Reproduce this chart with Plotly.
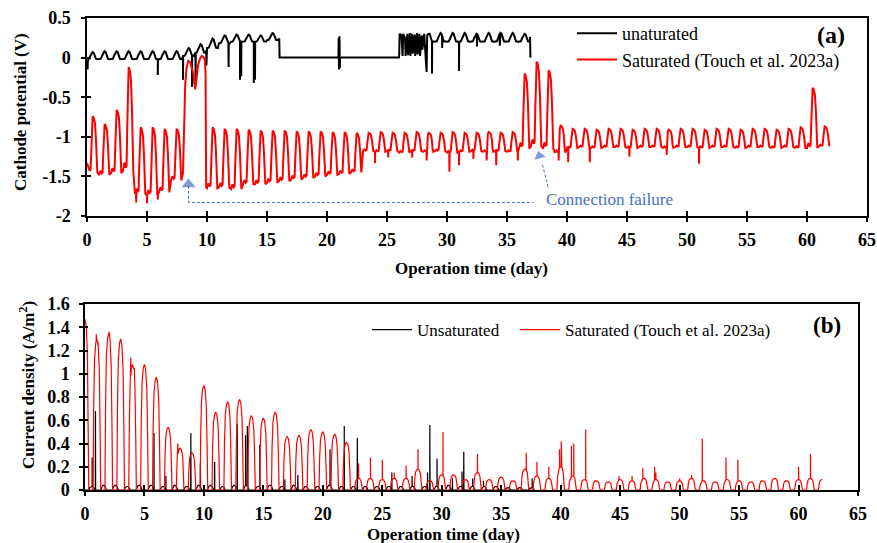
import numpy as np
import plotly.graph_objects as go

SERIF = "Liberation Serif, Times New Roman, serif"
BLUE = "#4472C4"

# ---------------- tick labels ----------------
x_ticks = [0, 5, 10, 15, 20, 25, 30, 35, 40, 45, 50, 55, 60, 65]
x_tick_text = ["0", "5", "10", "15", "20", "25", "30", "35", "40", "45", "50", "55", "60", "65"]
pot_ticks = [0.5, 0, -0.5, -1, -1.5, -2]
pot_tick_text = ["0.5", "0", "-0.5", "-1", "-1.5", "-2"]
cur_ticks = [0, 0.2, 0.4, 0.6, 0.8, 1.0, 1.2, 1.4, 1.6]
cur_tick_text = ["0", "0.2", "0.4", "0.6", "0.8", "1", "1.2", "1.4", "1.6"]

# ---------------- panel (a): cathode potential (V) ----------------
# Saturated: daily cycle, peak (least negative) and trough values read per day
sat_pot_days = list(range(62))
sat_pot_peak = [-0.74, -0.84, -0.66, -0.12, -0.88, -0.88, -0.90, -0.90, None, None,
                -0.88, -0.90, -0.90, -0.91, -0.92, -0.92, -0.92, -0.93, -0.93, -0.93,
                -0.94, -0.94, -0.95, -0.95, -0.94, -0.95, -0.95, -0.94, -0.95, -0.95,
                -0.94, -0.95, -0.95, -0.94, -0.95, -0.94, -0.20, -0.05, -0.16, -0.86,
                -0.90, -0.90, -0.91, -0.90, -0.90, -0.91, -0.90, -0.90, -0.91, -0.90,
                -0.90, -0.91, -0.90, -0.90, -0.91, -0.90, -0.90, -0.91, -0.90, -0.88,
                -0.38, -0.87]
sat_pot_trough = [-1.45, -1.48, -1.46, -1.43, -1.72, -1.74, -1.70, -1.55, None, None,
                  -1.65, -1.64, -1.66, -1.60, -1.60, -1.58, -1.56, -1.54, -1.52, -1.50,
                  -1.48, -1.47, -1.45, -1.18, -1.19, -1.18, -1.20, -1.18, -1.19, -1.18,
                  -1.20, -1.19, -1.18, -1.19, -1.18, -1.19, -1.15, -1.12, -1.15, -1.20,
                  -1.14, -1.13, -1.14, -1.13, -1.13, -1.14, -1.13, -1.13, -1.14, -1.13,
                  -1.13, -1.14, -1.13, -1.13, -1.14, -1.13, -1.13, -1.14, -1.13, -1.14,
                  -1.14, -1.12]
sat_pot_start = -1.33
# connection failure period (day 8-10), read point by point
sat_pot_fail_t = [8.0, 8.05, 8.1, 8.18, 8.3, 8.45, 8.6, 8.72, 8.85, 8.95, 9.02, 9.12,
                  9.25, 9.4, 9.55, 9.7, 9.82, 9.88, 9.93]
sat_pot_fail_v = [-1.46, -1.10, -0.75, -0.35, -0.12, -0.04, -0.06, -0.15, -0.20, -0.33,
                  -0.40, -0.28, -0.10, -0.02, 0.02, 0.01, -0.03, -0.20, -1.64]
# narrow downward spikes
sat_pot_spike_t = [4.1, 5.0, 5.9, 24.0, 25.1, 27.1, 28.3, 30.2, 31.0, 32.2, 33.3, 34.1,
                   35.9, 39.3, 40.1, 41.9, 45.2, 48.3, 51.0]
sat_pot_spike_v = [-1.83, -1.84, -1.79, -1.33, -1.26, -1.26, -1.30, -1.44, -1.36, -1.28,
                   -1.30, -1.36, -1.30, -1.30, -1.32, -1.32, -1.25, -1.23, -1.34]
# within-day waveform (fraction of the way from trough to peak)
pot_shape_phase = [0.00, 0.12, 0.22, 0.30, 0.35, 0.40, 0.47, 0.56, 0.66, 0.74, 0.80, 0.86]
pot_shape_frac = [0.00, 0.08, 0.03, 0.05, 0.40, 0.88, 1.00, 0.97, 0.88, 0.62, 0.15, 0.00]

# Unsaturated
uns_pot_days = [0, 1, 2, 3, 4, 5, 6, 7, 8, 9, 10, 11, 12, 13, 14, 15,
                28, 29, 30, 31, 32, 33, 34, 35, 36]
uns_pot_peak = [0.07, 0.08, 0.08, 0.08, 0.08, 0.08, 0.08, 0.08, 0.12, 0.17, 0.24, 0.28,
                0.29, 0.29, 0.28, 0.31, 0.31, 0.31, 0.31, 0.31, 0.30, 0.31, 0.31, 0.31, 0.30]
uns_pot_base = [-0.02, -0.02, -0.02, -0.02, -0.02, -0.02, -0.02, -0.02, 0.02, 0.06, 0.12, 0.18,
                0.20, 0.20, 0.20, 0.22, 0.20, 0.20, 0.20, 0.20, 0.20, 0.20, 0.20, 0.20, 0.20]
uns_pot_start = -0.05
uns_pot_off_t = [16.02, 16.05, 26.0]
uns_pot_off_v = [0.24, 0.0, 0.0]
uns_pot_dense_t = [26.02, 26.05, 26.2, 26.3, 26.35, 26.5, 26.55, 26.7, 26.75, 26.9, 26.95, 27.1,
                   27.15, 27.3, 27.35, 27.5, 27.55, 27.7, 27.75, 27.9, 27.95, 28.1, 28.15, 28.3,
                   28.35, 28.45]
uns_pot_dense_v = [0.05, 0.30, 0.28, 0.02, 0.30, 0.25, 0.02, 0.30, 0.03, 0.31, 0.02, 0.30,
                   0.05, 0.29, 0.02, 0.31, 0.04, 0.30, 0.02, 0.28, 0.10, 0.30, 0.20, -0.18,
                   0.28, 0.30]
uns_pot_end_t = [36.92, 36.95]
uns_pot_end_v = [0.26, 0.0]
uns_pot_spike_t = [0.05, 5.9, 8.0, 8.75, 9.05, 9.95, 11.8, 12.75, 12.85, 13.9, 14.0,
                   20.97, 21.0, 21.04, 21.07, 28.75, 29.6, 31.0, 32.5, 34.4]
uns_pot_spike_v = [-0.15, -0.22, -0.28, -0.37, -0.30, -0.10, -0.12, -0.28, -0.24, -0.32, -0.28,
                   0.25, -0.15, 0.27, -0.13, -0.20, 0.12, -0.17, 0.14, 0.15]
uns_shape_phase = [0.00, 0.15, 0.28, 0.38, 0.46, 0.55, 0.65, 0.75, 0.90]
uns_shape_frac = [0.00, 0.05, 0.50, 0.92, 1.00, 0.92, 0.40, 0.05, 0.00]

# ---------------- panel (b): current density (A/m2) ----------------
sat_cur_days = list(range(63))
sat_cur_peak = [1.47, 1.30, 1.35, 1.30, 1.08, 1.08, 0.97, 0.54, 0.36, 0.32,
                0.90, 0.67, 0.76, 0.78, 0.64, 0.62, 0.67, 0.46, 0.47, 0.52,
                0.50, 0.48, 0.41, 0.10, 0.10, 0.09, 0.10, 0.10, 0.18, 0.08,
                0.13, 0.13, 0.09, 0.15, 0.09, 0.11, 0.08, 0.18, 0.12, 0.10,
                0.20, 0.12, 0.09, 0.08, 0.07, 0.09, 0.08, 0.10, 0.09, 0.07,
                0.08, 0.10, 0.08, 0.07, 0.09, 0.08, 0.07, 0.08, 0.10, 0.08,
                0.09, 0.10, 0.09]
sat_cur_spike_t = [0.95, 1.1, 2.05, 3.85, 4.15, 7.8, 8.2, 23.0, 24.0, 25.0, 26.0, 27.0,
                   28.0, 30.1, 33.0, 37.1, 38.0, 39.0, 39.9, 40.05, 40.9, 41.1, 42.1,
                   44.9, 46.0, 46.9, 47.9, 48.0, 50.0, 51.0, 51.9, 53.9, 54.9, 60.0, 61.0]
sat_cur_spike_v = [1.34, 1.27, 1.36, 1.14, 1.05, 0.40, 0.32, 0.23, 0.28, 0.26, 0.15, 0.21,
                   0.35, 0.50, 0.31, 0.32, 0.24, 0.20, 0.35, 0.42, 0.38, 0.40, 0.52,
                   0.12, 0.12, 0.19, 0.20, 0.15, 0.10, 0.13, 0.44, 0.28, 0.26, 0.20, 0.31]
cur_shape_phase = [-0.50, -0.32, -0.27, -0.20, -0.10, 0.00, 0.10, 0.20, 0.27, 0.32]
cur_shape_frac = [0.00, 0.00, 0.55, 0.86, 0.97, 1.00, 0.96, 0.80, 0.40, 0.00]

uns_cur_days = list(range(38))
uns_cur_peak = [0.03, 0.04, 0.04, 0.03, 0.04, 0.04, 0.03, 0.04, 0.03, 0.04,
                0.04, 0.03, 0.04, 0.04, 0.03, 0.04, 0.03, 0.04, 0.03, 0.03,
                0.04, 0.03, 0.03, 0.03, 0.03, 0.03, 0.03, 0.03, 0.03, 0.03,
                0.04, 0.03, 0.03, 0.03, 0.03, 0.02, 0.02, 0.02]
uns_cur_spike_t = [0.6, 0.88, 5.8, 6.8, 8.9, 9.7, 10.9, 12.8, 13.5, 13.65, 14.7, 16.8,
                   17.9, 20.6, 21.8, 22.9, 25.8, 27.5, 28.8, 29.0, 29.6, 30.9, 31.7,
                   31.85, 32.6, 33.5, 37.6]
uns_cur_spike_v = [0.28, 0.68, 0.49, 0.12, 0.49, 0.23, 0.24, 0.57, 0.47, 0.55, 0.39, 0.09,
                   0.13, 0.35, 0.55, 0.45, 0.15, 0.12, 0.15, 0.56, 0.27, 0.10, 0.16,
                   0.33, 0.10, 0.08, 0.10]
uns_shape_cur_phase = [0.30, 0.40, 0.50, 0.60, 0.70, 0.80]
uns_shape_cur_frac = [0.00, 0.70, 1.00, 1.00, 0.70, 0.00]
uns_cur_end = 37.8

# annotation anchor points (panel a data coordinates)
fail_arrow1_t = [8.46, 8.46, 37.2]
fail_arrow1_v = [-1.62, -1.83, -1.83]
fail_arrow2_t = [38.42, 37.92]
fail_arrow2_v = [-1.634, -1.33]
fail_head_t = [8.46, 37.70]
fail_head_v = [-1.60, -1.24]


# ---------------- helpers ----------------
def cycles(days, hi, lo, phase, frac):
    t, v = [], []
    for d, h, l in zip(days, hi, lo):
        if h is None:
            continue
        for p, f in zip(phase, frac):
            t.append(d + p)
            v.append(l + f * (h - l))
    return t, v


def merge(*parts):
    t = np.concatenate([np.asarray(p[0], float) for p in parts])
    v = np.concatenate([np.asarray(p[1], float) for p in parts])
    o = np.argsort(t, kind="stable")
    return t[o], v[o]


def spikes(t, v, st, sv, w=0.015):
    et, ev = [], []
    for a, b in zip(st, sv):
        base = float(np.interp(a, t, v))
        et += [a - w, a, a + w]
        ev += [base, b, base]
    return merge((t, v), (et, ev))


def clip(t, v, lo, hi):
    m = (t >= lo) & (t <= hi)
    return t[m], v[m]


# saturated potential
t, v = cycles(sat_pot_days, sat_pot_peak, sat_pot_trough, pot_shape_phase, pot_shape_frac)
t, v = merge((t, v), (sat_pot_fail_t, sat_pot_fail_v))
v[0] = sat_pot_start
sat_pot_t, sat_pot_v = spikes(t, v, sat_pot_spike_t, sat_pot_spike_v)

# unsaturated potential
t, v = cycles(uns_pot_days, uns_pot_peak, uns_pot_base, uns_shape_phase, uns_shape_frac)
t, v = np.asarray(t), np.asarray(v)
seg1 = clip(t, v, 0, 16.0)
seg2 = clip(t, v, 28.5, 36.9)
t, v = merge(seg1, (uns_pot_off_t, uns_pot_off_v), (uns_pot_dense_t, uns_pot_dense_v), seg2,
             (uns_pot_end_t, uns_pot_end_v))
v[0] = uns_pot_start
uns_pot_t, uns_pot_v = spikes(t, v, uns_pot_spike_t, uns_pot_spike_v)

# saturated current
t, v = cycles(sat_cur_days, sat_cur_peak, [0.0] * len(sat_cur_days), cur_shape_phase, cur_shape_frac)
t, v = clip(np.asarray(t), np.asarray(v), 0, 62.0)
sat_cur_t, sat_cur_v = spikes(t, v, sat_cur_spike_t, sat_cur_spike_v)

# unsaturated current
t, v = cycles(uns_cur_days, uns_cur_peak, [0.0] * len(uns_cur_days), uns_shape_cur_phase, uns_shape_cur_frac)
t, v = merge(([0.0], [0.0]), (t, v), ([uns_cur_end], [0.0]))
t, v = clip(t, v, 0, uns_cur_end)
uns_cur_t, uns_cur_v = spikes(t, v, uns_cur_spike_t, uns_cur_spike_v)

# ---------------- figure ----------------
fig = go.Figure()
fig.add_trace(go.Scatter(x=uns_pot_t, y=uns_pot_v, mode="lines", name="unaturated",
                         line=dict(color="black", width=2), xaxis="x", yaxis="y",
                         legend="legend", legendgroup="a1"))
fig.add_trace(go.Scatter(x=sat_pot_t, y=sat_pot_v, mode="lines", name="Saturated (Touch et al. 2023a)",
                         line=dict(color="#FF0000", width=2), xaxis="x", yaxis="y",
                         legend="legend", legendgroup="a2"))
fig.add_trace(go.Scatter(x=uns_cur_t, y=uns_cur_v, mode="lines", name="Unsaturated",
                         line=dict(color="black", width=1.2), xaxis="x2", yaxis="y2",
                         legend="legend2"))
fig.add_trace(go.Scatter(x=sat_cur_t, y=sat_cur_v, mode="lines", name="Saturated (Touch et al. 2023a)",
                         line=dict(color="#FF0000", width=1.2), xaxis="x2", yaxis="y2",
                         legend="legend3"))

# connection failure arrows
fig.add_trace(go.Scatter(x=fail_arrow1_t, y=fail_arrow1_v, mode="lines", showlegend=False,
                         line=dict(color=BLUE, width=1, dash="3px,2px"), xaxis="x", yaxis="y",
                         hoverinfo="skip"))
fig.add_trace(go.Scatter(x=fail_arrow2_t, y=fail_arrow2_v, mode="lines", showlegend=False,
                         line=dict(color=BLUE, width=1, dash="3px,2px"), xaxis="x", yaxis="y",
                         hoverinfo="skip"))
fig.add_trace(go.Scatter(x=fail_head_t, y=fail_head_v, mode="markers", showlegend=False,
                         marker=dict(symbol="triangle-up", size=[12, 10], color=BLUE,
                                     angle=[0, -14], line=dict(width=0)),
                         xaxis="x", yaxis="y", hoverinfo="skip"))

# dummy traces for inner tick overlay axes
fig.add_trace(go.Scatter(x=[None], y=[None], xaxis="x3", yaxis="y3", showlegend=False))
fig.add_trace(go.Scatter(x=[None], y=[None], xaxis="x4", yaxis="y4", showlegend=False))

W, H = 877, 543
tickfont = dict(family=SERIF, size=18, color="black", weight="bold")


def xd(a, b):
    return [a / W, b / W]


def yd(top, bot):
    return [1 - bot / H, 1 - top / H]


axis_common = dict(showgrid=False, zeroline=False, linecolor="black", linewidth=1.5,
                   ticks="outside", ticklen=4, tickwidth=1.5, tickcolor="black",
                   tickfont=tickfont, mirror=True, automargin=False)
inner_common = dict(ticks="inside", tickwidth=1.5, tickcolor="black", showticklabels=False,
                    showline=False, showgrid=False, zeroline=False, automargin=False,
                    tickmode="array")
leg_common = dict(xanchor="left", yanchor="top", bgcolor="rgba(0,0,0,0)", itemwidth=40)

fig.update_layout(
    template="none",
    width=W, height=H, margin=dict(l=0, r=0, t=0, b=0, pad=0, autoexpand=False),
    paper_bgcolor="white", plot_bgcolor="white",
    font=dict(family=SERIF, color="black"),
    xaxis=dict(domain=xd(87, 867), range=[0, 65], tickmode="array", tickvals=x_ticks,
               ticktext=x_tick_text, anchor="y", ticklabelstandoff=3, **axis_common),
    yaxis=dict(domain=yd(18, 216), range=[-2, 0.5], tickmode="array", tickvals=pot_ticks,
               ticktext=pot_tick_text, anchor="x", ticklabelstandoff=7, **axis_common),
    xaxis2=dict(domain=xd(85, 858), range=[0, 65], tickmode="array", tickvals=x_ticks,
                ticktext=x_tick_text, anchor="y2", ticklabelstandoff=3, **axis_common),
    yaxis2=dict(domain=yd(304, 490), range=[0, 1.6], tickmode="array", tickvals=cur_ticks,
                ticktext=cur_tick_text, anchor="x2", ticklabelstandoff=6, **axis_common),
    xaxis3=dict(overlaying="x", anchor="y3", range=[0, 65], tickvals=x_ticks, ticklen=5, **inner_common),
    yaxis3=dict(overlaying="y", anchor="x3", range=[-2, 0.5], tickvals=pot_ticks, ticklen=4, **inner_common),
    xaxis4=dict(overlaying="x2", anchor="y4", range=[0, 65], tickvals=x_ticks, ticklen=5, **inner_common),
    yaxis4=dict(overlaying="y2", anchor="x4", range=[0, 1.6], tickvals=cur_ticks, ticklen=3, **inner_common),
    legend=dict(x=572 / W, y=1 - 15 / H, font=dict(family=SERIF, size=18, color="black"),
                tracegroupgap=0, traceorder="normal", **leg_common),
    legend2=dict(x=367 / W, y=1 - 312 / H, font=dict(family=SERIF, size=17, color="black"),
                 **leg_common),
    legend3=dict(x=515 / W, y=1 - 312 / H, font=dict(family=SERIF, size=17, color="black"),
                 **leg_common),
    showlegend=True,
)

ann_font = dict(family=SERIF, size=17, color="black", weight="bold")
annotations = [
    dict(text="Cathode potential (V)", x=20 / W, y=1 - 112 / H, textangle=-90, font=ann_font),
    dict(text="Current density (A/m<sup>2</sup>)", x=27 / W, y=1 - 385 / H, textangle=-90, font=ann_font),
    dict(text="Operation time (day)", x=471 / W, y=1 - 268 / H, font=ann_font),
    dict(text="Operation time (day)", x=443 / W, y=1 - 534 / H, font=ann_font),
    dict(text="(a)", x=831 / W, y=1 - 35 / H, font=dict(family=SERIF, size=24, color="black", weight="bold")),
    dict(text="(b)", x=827 / W, y=1 - 325 / H, font=dict(family=SERIF, size=23, color="black", weight="bold")),
    dict(text="Connection failure", x=609 / W, y=1 - 200 / H, font=dict(family=SERIF, size=17, color=BLUE)),
]
for a in annotations:
    a.update(xref="paper", yref="paper", showarrow=False, xanchor="center", yanchor="middle")
fig.update_layout(annotations=annotations)

fig.write_html("out.html")
